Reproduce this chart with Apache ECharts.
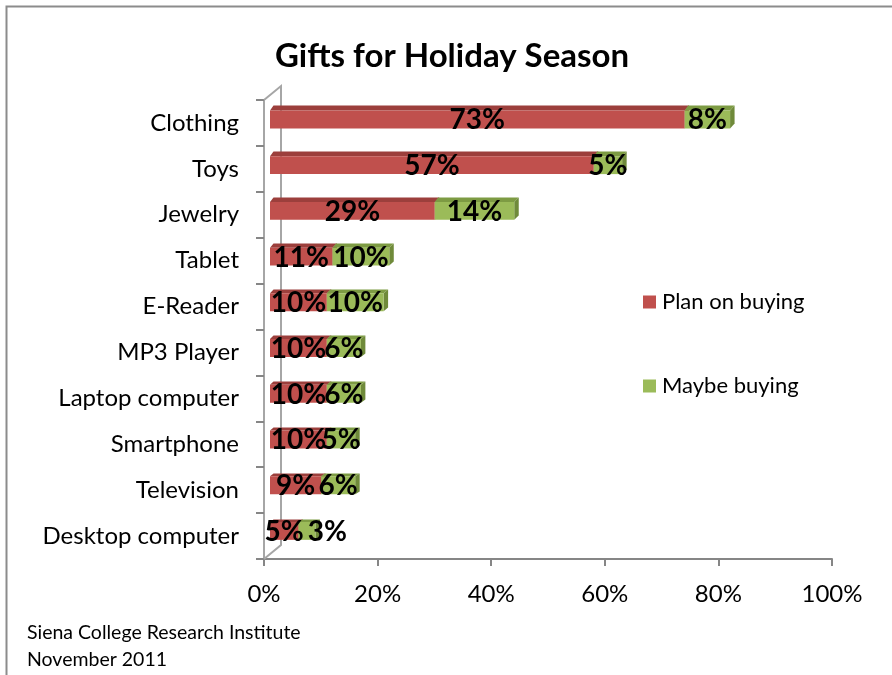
<!DOCTYPE html>
<html>
<head>
<meta charset="utf-8">
<title>Gifts for Holiday Season</title>
<script src="https://cdn.jsdelivr.net/npm/echarts@6/dist/echarts.min.js"></script>
<style>
  html, body { margin: 0; padding: 0; background: #ffffff; }
  #chart { width: 892px; height: 675px; }
</style>
</head>
<body>
<div id="chart"></div>
<script>
// Survey results: share of respondents planning / maybe buying each gift type
const categories = ['Clothing', 'Toys', 'Jewelry', 'Tablet', 'E-Reader', 'MP3 Player',
  'Laptop computer', 'Smartphone', 'Television', 'Desktop computer'];
const planOnBuying = [73, 57, 29, 11, 10, 10, 10, 10, 9, 5];
const maybeBuying = [8, 5, 14, 10, 10, 6, 6, 5, 6, 3];
const xTicks = [0, 20, 40, 60, 80, 100];
const seriesNames = ['Plan on buying', 'Maybe buying'];
const sourceLines = ['Siena College Research Institute', 'November 2011'];

const FONT = 'Lato, "Open Sans", sans-serif';
const LABEL_FONT_SIZE = 28;
const LABEL_FONT = 'bold ' + LABEL_FONT_SIZE + 'px Lato';

// Plot area placement
const GRID = { left: 264, top: 100, width: 568, height: 459 };

// Colours for the front face and for the shaded top / end faces of each segment
const palette = [
  { front: '#C0504D', top: '#9C3F3C', side: '#8E3937' },
  { front: '#9BBB59', top: '#7D9B43', side: '#6F8A3A' }
];

const measureCtx = document.createElement('canvas').getContext('2d');
function textWidth(str) {
  measureCtx.font = LABEL_FONT;
  return measureCtx.measureText(str).width;
}

// Small fake perspective: bars sit a little behind the front axis plane
const DEPTH_X = 6;
function depthY(y) { return -3.5 - (y - 122) * 0.004; }
function topRise(y) { return 5 - (y - 110) * 0.0065; }
const SIDE_DX = 4.5;

function makeRenderer(seriesIndex) {
  return function (params, api) {
    const idx = api.value(0);
    const start = seriesIndex === 0 ? 0 : planOnBuying[idx];
    const val = seriesIndex === 0 ? planOnBuying[idx] : maybeBuying[idx];
    const p0 = api.coord([start, idx]);
    const p1 = api.coord([start + val, idx]);
    const band = api.size([0, 1])[1];
    const h = band * 0.39;
    const cy = p0[1] + depthY(p0[1]);
    const x0 = p0[0] + DEPTH_X;
    const x1 = p1[0] + DEPTH_X;
    const yT = cy - h / 2;
    const yB = cy + h / 2;
    const rise = topRise(yT);
    const c = palette[seriesIndex];

    // label position, pushed right when it clearly collides with the previous segment's label
    const txt = val + '%';
    let lx = (x0 + x1) / 2;
    if (seriesIndex === 1) {
      const prevTxt = planOnBuying[idx] + '%';
      const prevCenter = (DEPTH_X + api.coord([0, idx])[0] + x0) / 2;
      const prevRight = prevCenter + textWidth(prevTxt) / 2;
      const myLeft = lx - textWidth(txt) / 2;
      if (myLeft < prevRight - 8) lx = prevRight + 4 + textWidth(txt) / 2;
    }

    return {
      type: 'group',
      children: [
        {
          type: 'polygon',
          shape: { points: [[x0, yT], [x1, yT], [x1 + SIDE_DX, yT - rise], [x0 + SIDE_DX - 1, yT - rise]] },
          style: { fill: c.top }
        },
        {
          type: 'polygon',
          shape: { points: [[x1, yT], [x1 + SIDE_DX, yT - rise], [x1 + SIDE_DX, yB - rise], [x1, yB]] },
          style: { fill: c.side }
        },
        {
          type: 'rect',
          shape: { x: x0, y: yT, width: x1 - x0, height: h },
          style: { fill: c.front }
        },
        {
          type: 'text',
          z2: 100,
          style: {
            x: lx, y: cy + 1, text: txt, align: 'center', verticalAlign: 'middle',
            font: LABEL_FONT, fill: '#000000'
          }
        }
      ]
    };
  };
}

const chart = echarts.init(document.getElementById('chart'), null, { renderer: 'canvas' });

const rows = categories.map((c, i) => [i]);

// Receding side wall and floor edges of the plot area
const WALL_DX = 17, WALL_DY = -14;
const gx = GRID.left, gyT = GRID.top, gyB = GRID.top + GRID.height;

chart.setOption({
  backgroundColor: '#ffffff',
  animation: false,
  title: [
    {
      text: 'Gifts for Holiday Season',
      left: 452, top: 40, textAlign: 'center', padding: 0,
      textStyle: { fontFamily: FONT, fontWeight: 'bold', fontSize: 33, color: '#000' }
    },
    {
      text: sourceLines.join('\n'),
      left: 27, top: 619, padding: 0,
      textStyle: { fontFamily: FONT, fontWeight: 'normal', fontSize: 19.5, lineHeight: 27, color: '#000' }
    }
  ],
  legend: {
    orient: 'vertical',
    left: 643, top: 291,
    itemWidth: 13, itemHeight: 13, itemGap: 62,
    icon: 'rect',
    padding: 0,
    textStyle: { fontFamily: FONT, fontSize: 22, color: '#000', padding: [0, 0, 0, 1] },
    data: seriesNames
  },
  grid: { left: GRID.left, top: GRID.top, width: GRID.width, height: GRID.height, containLabel: false },
  xAxis: {
    type: 'value', min: xTicks[0], max: xTicks[xTicks.length - 1], interval: 20,
    axisLine: { show: true, lineStyle: { color: '#868686', width: 2 } },
    axisTick: { show: true, length: 7, lineStyle: { color: '#868686', width: 2 } },
    splitLine: { show: false },
    axisLabel: { formatter: '{value}%', fontFamily: FONT, fontSize: 24, color: '#000', margin: 23 }
  },
  yAxis: {
    type: 'category', data: categories, inverse: true,
    axisLine: { show: true, lineStyle: { color: '#A6A6A6', width: 2 } },
    axisTick: { show: true, length: 8, lineStyle: { color: '#868686', width: 2 } },
    axisLabel: { fontFamily: FONT, fontSize: 24, color: '#000', margin: 25 }
  },
  graphic: [
    {
      type: 'rect', silent: true,
      shape: { x: 6.5, y: 6.5, width: 1000, height: 1000 },
      style: { stroke: '#8C8C8C', lineWidth: 2, fill: null }
    },
    {
      type: 'polyline', silent: true, z: 1,
      shape: { points: [[gx, gyT], [gx + WALL_DX, gyT + WALL_DY], [gx + WALL_DX, gyB + WALL_DY], [gx, gyB]] },
      style: { stroke: '#A6A6A6', lineWidth: 2, fill: null }
    }
  ],
  series: [0, 1].map(si => ({
    type: 'custom',
    name: seriesNames[si],
    itemStyle: { color: palette[si].front },
    renderItem: makeRenderer(si),
    encode: { y: 0 },
    data: rows,
    clip: false
  }))
});
</script>
</body>
</html>
